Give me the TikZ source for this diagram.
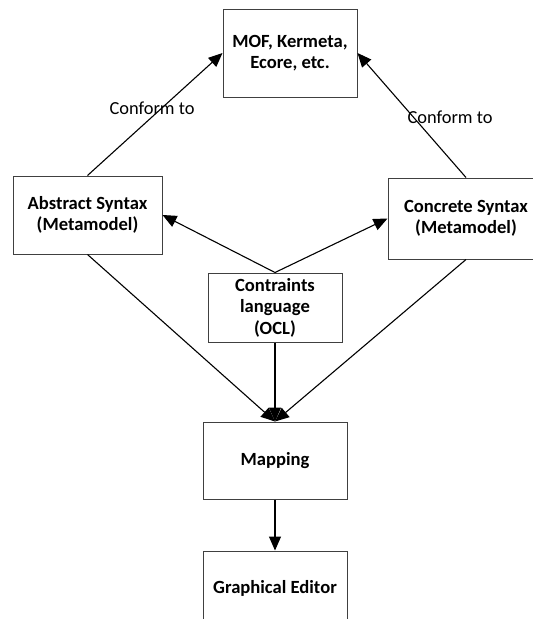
\documentclass[tikz,border=0pt]{standalone}
\usepackage{fontspec}
\setmainfont{Carlito}
\usetikzlibrary{arrows.meta}
\begin{document}
\begin{tikzpicture}[x=1pt,y=-1pt,
  box/.style={draw=black!75, line width=1pt, inner sep=0pt, align=center,
    font=\fontsize{18.6}{21.5}\selectfont\bfseries},
  link/.style={line width=1.1pt, -{Triangle[length=14pt,width=12pt]}},
  lbl/.style={font=\fontsize{18.4}{21.5}\selectfont, inner sep=0pt}]
\useasboundingbox (0,0) rectangle (533,619);
\clip (0,0) rectangle (533,619);
\fill[white] (0,0) rectangle (533,619);

% boxes
\node[box, minimum width=134pt, minimum height=88pt] (mof) at (290,53) {MOF, Kermeta,\\Ecore, etc.};
\node[box, minimum width=149pt, minimum height=78pt] (abs) at (87.5,215) {Abstract Syntax\\(Metamodel)};
\node[box, minimum width=156pt, minimum height=81pt] (con) at (466,218.5) {Concrete Syntax\\(Metamodel)};
\node[box, minimum width=134pt, minimum height=69pt] (ocl) at (275,307.5) {Contraints\\language\\(OCL)};
\node[box, minimum width=144pt, minimum height=77pt] (map) at (275,460.5) {Mapping};
\node[box, minimum width=144pt, minimum height=74pt] (gui) at (275,588) {Graphical Editor};

% conformance links
\draw[link] (abs.north) -- (mof.west);
\draw[link] (con.north) -- (mof.east);
\node[lbl] (c1) at (152,108) {Conform to};
\node[lbl] (c2) at (450,117) {Conform to};

% constraints on both syntaxes
\draw[link] (ocl.north) -- (abs.east);
\draw[link] (ocl.north) -- (con.west);

% inputs to the mapping
\draw[link] (abs.south) -- (map.north);
\draw[link] (con.south) -- (map.north);
\draw[link] (ocl.south) -- (map.north);

\draw[link] (map.south) -- (gui.north);
\end{tikzpicture}
\end{document}
